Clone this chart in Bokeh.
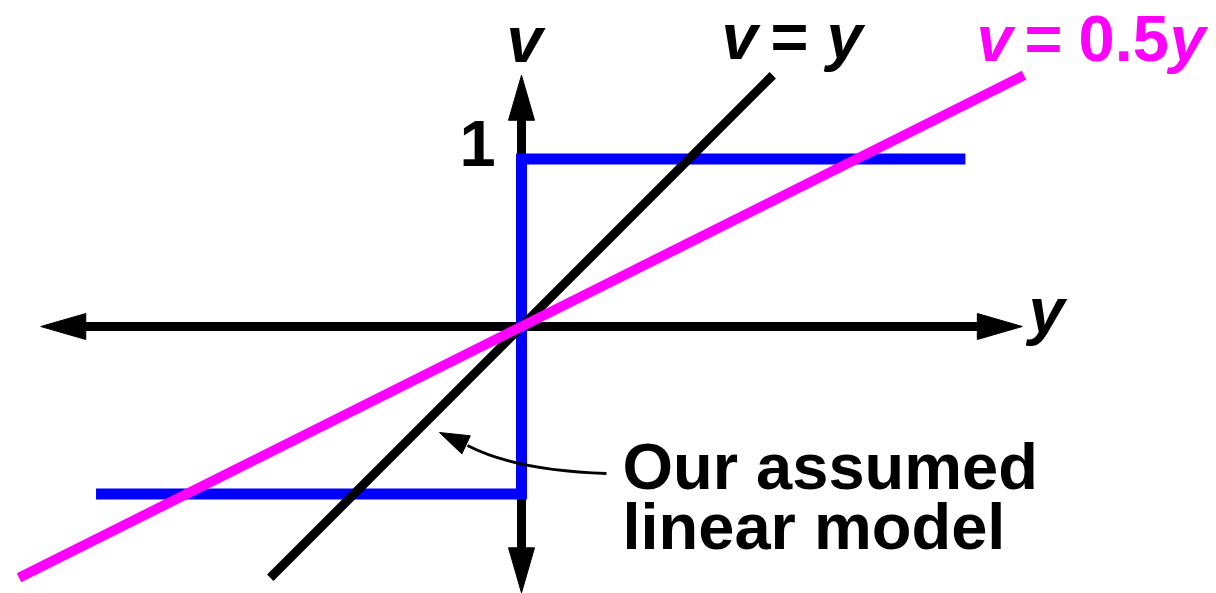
from bokeh.plotting import figure
from bokeh.models import ColumnDataSource, Range1d
from bokeh.core.properties import value
from bokeh.embed import file_html
from bokeh.resources import INLINE

# ---------------- data (in chart units: y horizontal, v vertical) ----------------
step_y = [-2.54, 0.0, 0.0, 2.65]      # hard limiter (blue)
step_v = [-1.0, -1.0, 1.0, 1.0]
unity_y = [-1.5, 1.5]                 # v = y (black)
unity_v = [-1.5, 1.5]
half_y = [-3.0, 3.0]                  # v = 0.5y (magenta)
half_v = [-1.5, 1.5]
haxis_y = [-2.87, 2.99]               # horizontal axis extent
vaxis_v = [-1.59, 1.50]               # vertical axis extent
tick_v = [1.0]
tick_labels = ["1"]

# ---------------- layout ----------------
W, H = 1216, 593
U = 167.5            # pixels per unit
OX, OY = 521, 326    # origin position on the canvas (pixels)
TFIX = 24            # text baseline compensation (pixels)

def sx(px):          # canvas x pixel -> data
    return (px - OX) / U

def sy(py):          # canvas y pixel -> data
    return (OY - py) / U

def ty(py):          # baseline pixel -> data, compensated
    return (OY - py + TFIX) / U

p = figure(width=W, height=H, output_backend="svg", toolbar_location=None,
           x_range=Range1d(-OX / U, (W - OX) / U),
           y_range=Range1d((OY - H) / U, OY / U),
           min_border=0, background_fill_color="white",
           border_fill_color="white", outline_line_color=None)
p.xaxis.visible = False
p.yaxis.visible = False
p.grid.visible = False

BLACK = "#000000"
BLUE = "#0000FF"
MAGENTA = "#FF00FF"

HL = 45 / U   # arrow head length
HW = 13 / U   # arrow head half width

# axes shafts
p.line([haxis_y[0] + HL * 0.8, haxis_y[1] - HL * 0.8], [0, 0], line_color=BLACK, line_width=9)
p.line([0, 0], [vaxis_v[0] + HL * 0.8, vaxis_v[1] - HL * 0.8], line_color=BLACK, line_width=9)

# axes heads
hx = [[haxis_y[0], haxis_y[0] + HL, haxis_y[0] + HL],
      [haxis_y[1], haxis_y[1] - HL, haxis_y[1] - HL],
      [0, -HW, HW],
      [0, -HW, HW]]
hy = [[0, HW, -HW],
      [0, HW, -HW],
      [vaxis_v[1], vaxis_v[1] - HL, vaxis_v[1] - HL],
      [vaxis_v[0], vaxis_v[0] + HL, vaxis_v[0] + HL]]
p.patches(hx, hy, fill_color=BLACK, line_color=BLACK, line_width=1)

# curves
p.line(step_y, step_v, line_color=BLUE, line_width=11, line_join="miter")
p.line(unity_y, unity_v, line_color=BLACK, line_width=9)
p.line(half_y, half_v, line_color=MAGENTA, line_width=10)

# annotation arrow (curved)
S = (sx(606), sy(473))
C = (sx(515), sy(470))
E = (sx(467), sy(445))
T = (sx(439), sy(432))
p.quadratic(x0=[S[0]], y0=[S[1]], x1=[E[0]], y1=[E[1]], cx=[C[0]], cy=[C[1]],
            line_color=BLACK, line_width=3)
dxh, dyh = T[0] - E[0], T[1] - E[1]
ln = (dxh ** 2 + dyh ** 2) ** 0.5
nx, ny = -dyh / ln, dxh / ln
hw2 = 10 / U
bx, by = E[0] + dxh * 0.05, E[1] + dyh * 0.05
p.patch([T[0], bx + nx * hw2, bx - nx * hw2], [T[1], by + ny * hw2, by - ny * hw2],
        fill_color=BLACK, line_color=BLACK, line_width=1)

FS = "65px"
FONT = value("Liberation Sans")

def txt(xs, ys, texts, color, style, align="left"):
    src = ColumnDataSource(dict(x=xs, y=ys, t=texts))
    p.text(x="x", y="y", text="t", source=src, text_color=color,
           text_font=FONT, text_font_size=FS, text_font_style=style,
           text_align=align, text_baseline="alphabetic")

# axis labels
txt([sx(506)], [ty(63)], ["v"], BLACK, "bold italic")
txt([sx(1028)], [ty(334)], ["y"], BLACK, "bold italic")
# tick label (at v = 1, baseline slightly below the level)
txt([sx(459)], [tick_v[0] + TFIX / U - 8 / U], tick_labels, BLACK, "bold")

# v = y
txt([sx(721), sx(826)], [ty(60), ty(60)], ["v", "y"], BLACK, "bold italic")
txt([sx(770)], [ty(60)], ["="], BLACK, "bold")

# v = 0.5y
txt([sx(976), sx(1169)], [ty(62), ty(62)], ["v", "y"], MAGENTA, "bold italic")
txt([sx(1024), sx(1078)], [ty(62)] * 2, ["=", "0.5"], MAGENTA, "bold")

# annotation text
txt([sx(622), sx(622)], [ty(490), ty(550)], ["Our assumed", "linear model"], BLACK, "bold")

open("out.html", "w").write(file_html(p, INLINE))
